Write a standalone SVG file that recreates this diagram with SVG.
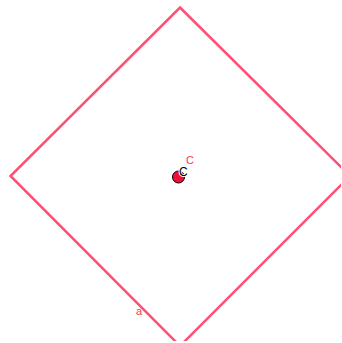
<svg xmlns="http://www.w3.org/2000/svg" width="342" height="343" viewBox="0 0 342 343">
<style>
.edge{fill:none;stroke:#ff4f77;stroke-width:2.5;stroke-linejoin:miter}
.lbl{font-family:"Liberation Sans",Arial,sans-serif;font-size:11px;fill:#ff3355}
</style>
<defs>
<clipPath id="cp"><rect x="0" y="0" width="341" height="341"/></clipPath>
</defs>
<rect width="342" height="343" fill="#fff"/>
<g id="connectors" clip-path="url(#cp)">
<polygon class="edge" points="180,7.5 350,176 180,346 10.5,176"/>
</g>
<g id="a">
<text class="lbl" x="136" y="315">a</text>
</g>
<g id="C">
<circle cx="178.5" cy="177" r="6" fill="#ee1133" stroke="#000" stroke-width="1"/>
<text x="179" y="176" font-family="Liberation Sans,Arial,sans-serif" font-size="12" fill="#000" stroke="#fff" stroke-width="2" paint-order="stroke">C</text>
<text class="lbl" x="186" y="164">C</text>
</g>
</svg>
